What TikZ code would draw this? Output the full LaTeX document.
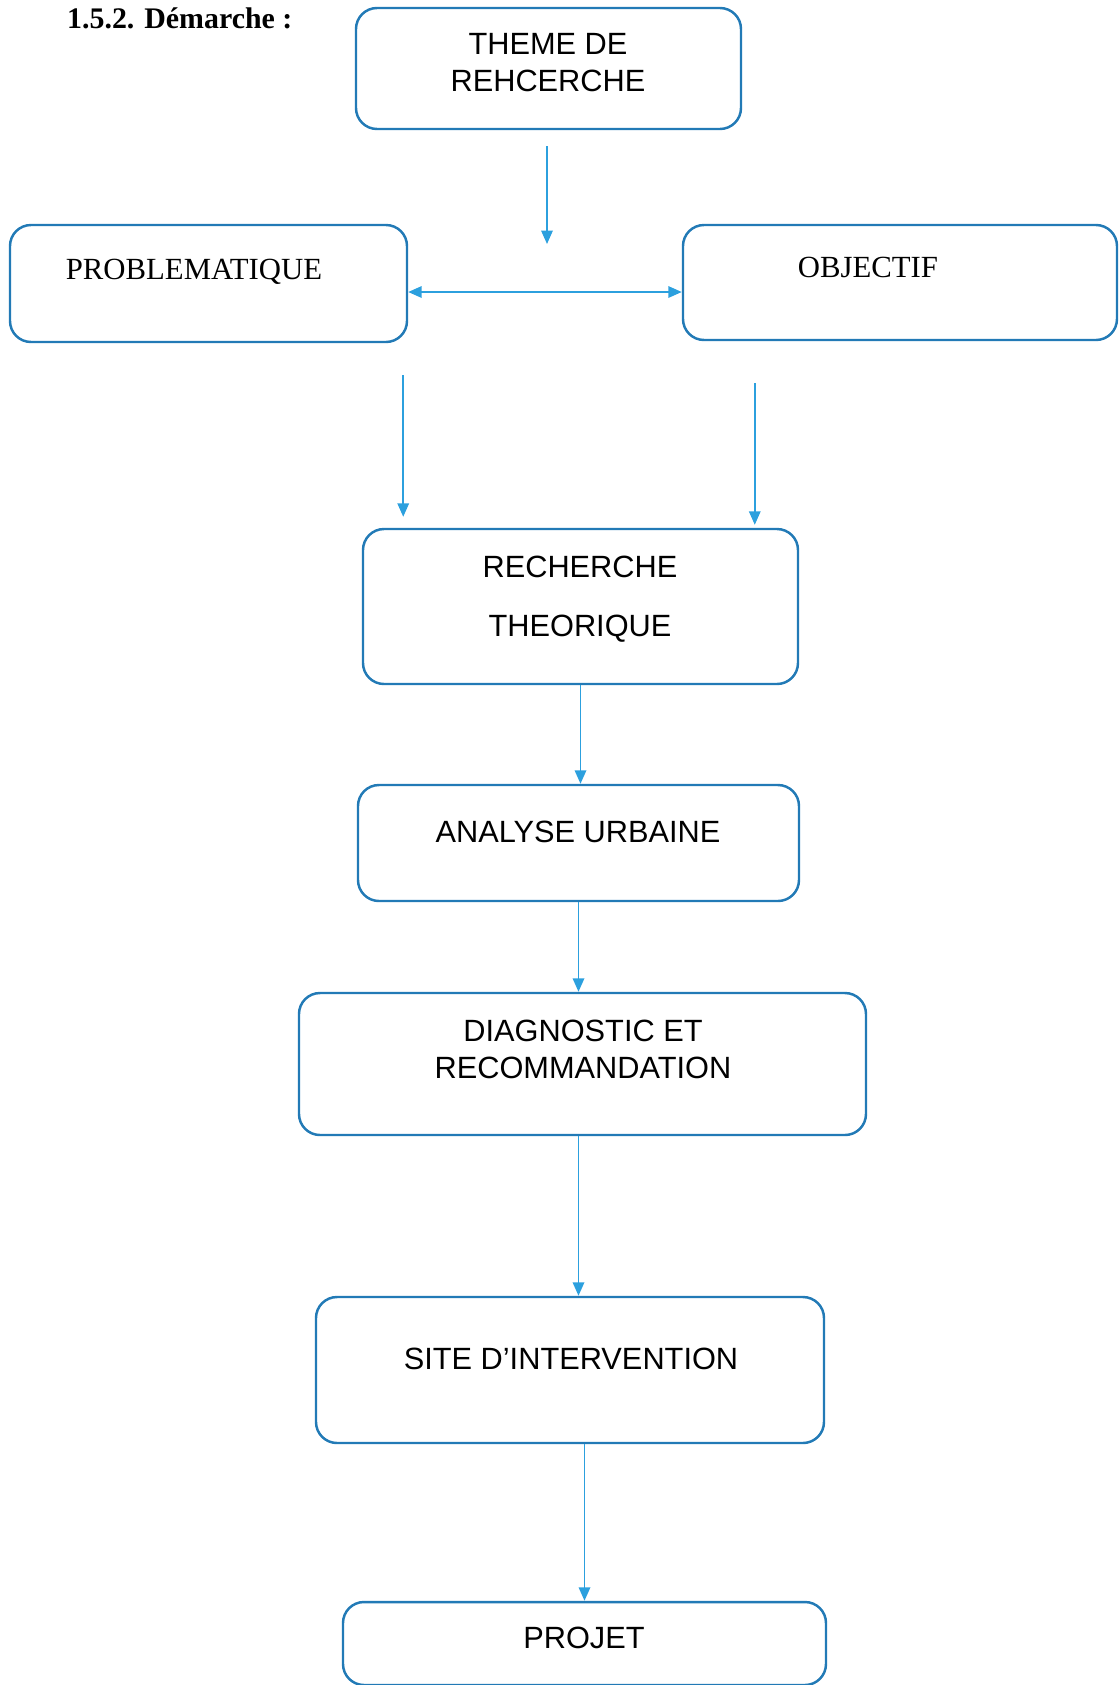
\documentclass[tikz,border=0pt]{standalone}
\usepackage{fontspec}
\setmainfont{Liberation Serif}
\newfontfamily\arialfont{Liberation Sans}
\usetikzlibrary{positioning, arrows.meta}
\definecolor{boxBlue}{RGB}{34,122,182}
\definecolor{arrowBlue}{RGB}{44,160,222}

\begin{document}
\begin{tikzpicture}[
        box/.style = {rectangle, draw = boxBlue, line width = 1.4pt, rounded corners = 0.42cm, inner sep = 0pt},
        sansText/.style = {font = \arialfont\fontsize{17.5}{21}\selectfont, align = center},
        serifText/.style = {font = \fontsize{17.5}{21}\selectfont, align = center},
        arr/.style = {draw = arrowBlue, line width = 1pt, -{Triangle[length = 0.27cm, width = 0.23cm]}}
    ]
        \useasboundingbox (0, 0) rectangle (22.38, -33.7);

        \node[anchor = base west, font = \bfseries\fontsize{17}{21}\selectfont] (title) at (1.22, -0.57) {1.5.2. Démarche :};

        % boxes
        \node[box, minimum width = 7.70cm, minimum height = 2.42cm] (themeNode) at (10.97, -1.37) {};
        \node[box, minimum width = 7.94cm, minimum height = 2.34cm] (probNode) at (4.17, -5.67) {};
        \node[box, minimum width = 8.68cm, minimum height = 2.30cm] (objNode) at (18.00, -5.65) {};
        \node[box, minimum width = 8.70cm, minimum height = 3.10cm] (rechNode) at (11.61, -12.13) {};
        \node[box, minimum width = 8.82cm, minimum height = 2.32cm] (analNode) at (11.57, -16.86) {};
        \node[box, minimum width = 11.34cm, minimum height = 2.84cm] (diagNode) at (11.65, -21.28) {};
        \node[box, minimum width = 10.16cm, minimum height = 2.92cm] (siteNode) at (11.40, -27.40) {};
        \node[box, minimum width = 9.66cm, minimum height = 1.66cm] (projetNode) at (11.69, -32.87) {};

        % texts
        \node[sansText] (themeText) at (10.96, -1.26) {THEME DE\\REHCERCHE};
        \node[serifText] (probText) at (3.88, -5.44) {PROBLEMATIQUE};
        \node[serifText] (objText) at (17.36, -5.34) {OBJECTIF};
        \node[sansText] (rechText) at (11.60, -11.99) {RECHERCHE\\[12.5pt]THEORIQUE};
        \node[sansText] (analText) at (11.56, -16.64) {ANALYSE URBAINE};
        \node[sansText] (diagText) at (11.66, -20.99) {DIAGNOSTIC ET\\RECOMMANDATION};
        \node[sansText] (siteText) at (11.42, -27.17) {SITE D’INTERVENTION};
        \node[sansText] (projetText) at (11.68, -32.75) {PROJET};

        % connectors
        \coordinate (split) at (10.94, -4.88);
        \draw[arr, shorten <= 0.32cm] (themeNode.south -| split) -- (split);
        \draw[arr, {Triangle[length = 0.27cm, width = 0.23cm]}-{Triangle[length = 0.27cm, width = 0.23cm]}] ([yshift = -0.17cm]probNode.east) -- ([yshift = -0.17cm]probNode.east -| objNode.west);
        \draw[arr, shorten <= 0.64cm, shorten >= 0.22cm] ([xshift = -0.1cm]probNode.south east) -- ([xshift = -0.1cm]probNode.south east |- rechNode.north);
        \draw[arr, shorten <= 0.84cm, shorten >= 0.06cm] ([xshift = 1.46cm]objNode.south west) -- ([xshift = 1.46cm]objNode.south west |- rechNode.north);
        \draw[arr] (rechNode.south) -- (rechNode.south |- analNode.north);
        \draw[arr] (analNode.south) -- (analNode.south |- diagNode.north);
        \draw[arr] (analNode.south |- diagNode.south) -- (analNode.south |- siteNode.north);
        \draw[arr] (projetNode.north |- siteNode.south) -- (projetNode.north);
      \end{tikzpicture}
\end{document}
